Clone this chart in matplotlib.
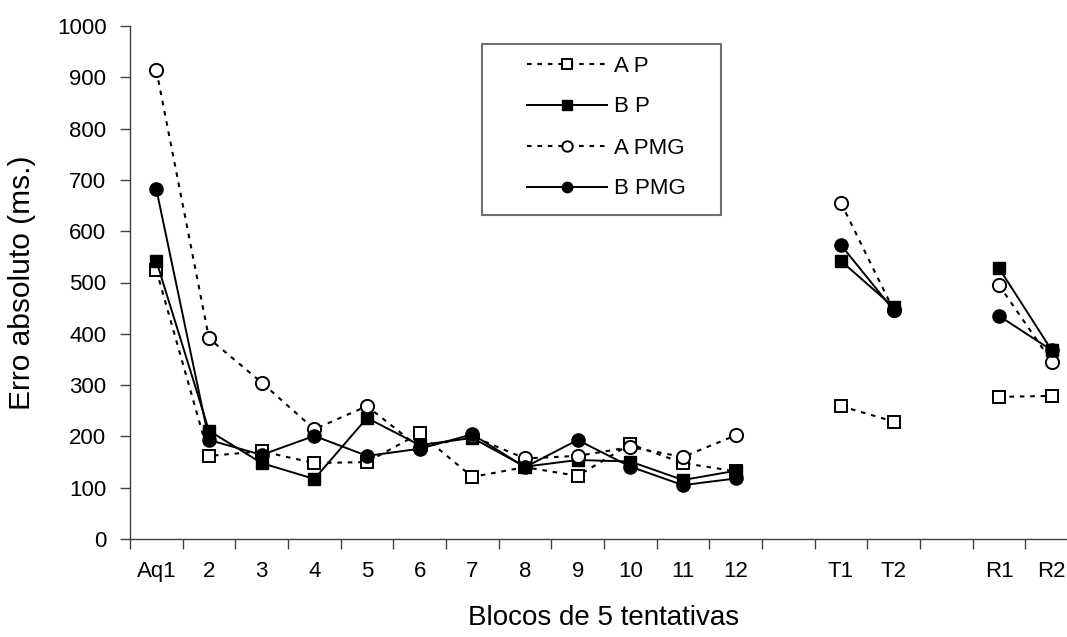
import numpy as np
import matplotlib
matplotlib.use('Agg')
from matplotlib import pyplot as plt
from matplotlib.patches import Rectangle

plt.rcParams['font.family'] = ['Liberation Sans', 'DejaVu Sans']

nan = np.nan
categorias = ['Aq1', '2', '3', '4', '5', '6', '7', '8', '9', '10', '11', '12',
              '', 'T1', 'T2', '', 'R1', 'R2']
a_p = [524, 162, 171, 148, 150, 206, 121, 140, 123, 185, 148, 132, nan, 259, 229, nan, 277, 279]
b_p = [542, 211, 148, 117, 236, 183, 197, 141, 154, 151, 115, 133, nan, 542, 452, nan, 528, 368]
a_pmg = [914, 391, 305, 214, 259, 178, 200, 157, 162, 179, 160, 202, nan, 655, 446, nan, 495, 346]
b_pmg = [682, 193, 164, 201, 162, 176, 204, 140, 193, 141, 105, 118, nan, 573, 446, nan, 435, 368]

x = np.arange(len(categorias))

fig = plt.figure(figsize=(10.67, 6.37), dpi=100)
ax = fig.add_axes([130/1067, 98/637, 948/1067, 513/637])

dots = (0, (2.2, 2.8))
ax.plot(x, a_p, linestyle=dots, color='black', lw=1.5, marker='s', ms=9,
        mfc='white', mec='black', mew=1.4, label='A P')
ax.plot(x, b_p, linestyle='-', color='black', lw=1.4, marker='s', ms=9,
        mfc='black', mec='black', label='B P')
ax.plot(x, a_pmg, linestyle=dots, color='black', lw=1.5, marker='o', ms=9.5,
        mfc='white', mec='black', mew=1.4, label='A PMG')
ax.plot(x, b_pmg, linestyle='-', color='black', lw=1.4, marker='o', ms=9.5,
        mfc='black', mec='black', label='B PMG')

ax.set_xlim(-0.5, len(categorias) - 0.5)
ax.set_ylim(0, 1000)
ax.set_yticks(np.arange(0, 1001, 100))
ax.set_xticks(x)
ax.set_xticklabels(categorias)
ax.set_xticks(np.arange(-0.5, len(categorias), 1), minor=True)
ax.tick_params(axis='x', which='major', length=0, pad=16, labelsize=16)
ax.tick_params(axis='x', which='minor', length=7, width=1, color='#404040', direction='out')
ax.tick_params(axis='y', length=7, width=1, color='#404040', pad=10, labelsize=16)

for s in ['top', 'right']:
    ax.spines[s].set_visible(False)
for s in ['left', 'bottom']:
    ax.spines[s].set_color('#404040')
    ax.spines[s].set_linewidth(1)

ax.set_ylabel('Erro absoluto (ms.)', fontsize=21.5)
ax.yaxis.set_label_coords(-0.099, 0.5)
ax.set_xlabel('Blocos de 5 tentativas', fontsize=20)
ax.xaxis.set_label_coords(0.5, -0.128)

leg = ax.legend(loc='center left', bbox_to_anchor=(527/1067, 1 - 127.5/637),
                bbox_transform=fig.transFigure, frameon=False, fontsize=16,
                handlelength=3.6, handletextpad=0.3, labelspacing=0.9,
                borderpad=0, borderaxespad=0)
for h in leg.legend_handles:
    h.set_markersize(7.5)

fig.patches.append(Rectangle((482/1067, 1 - 215/637), 239/1067, 171/637,
                             transform=fig.transFigure, fill=False,
                             edgecolor='#707070', lw=1.5))

plt.savefig('out.png', dpi=100)
